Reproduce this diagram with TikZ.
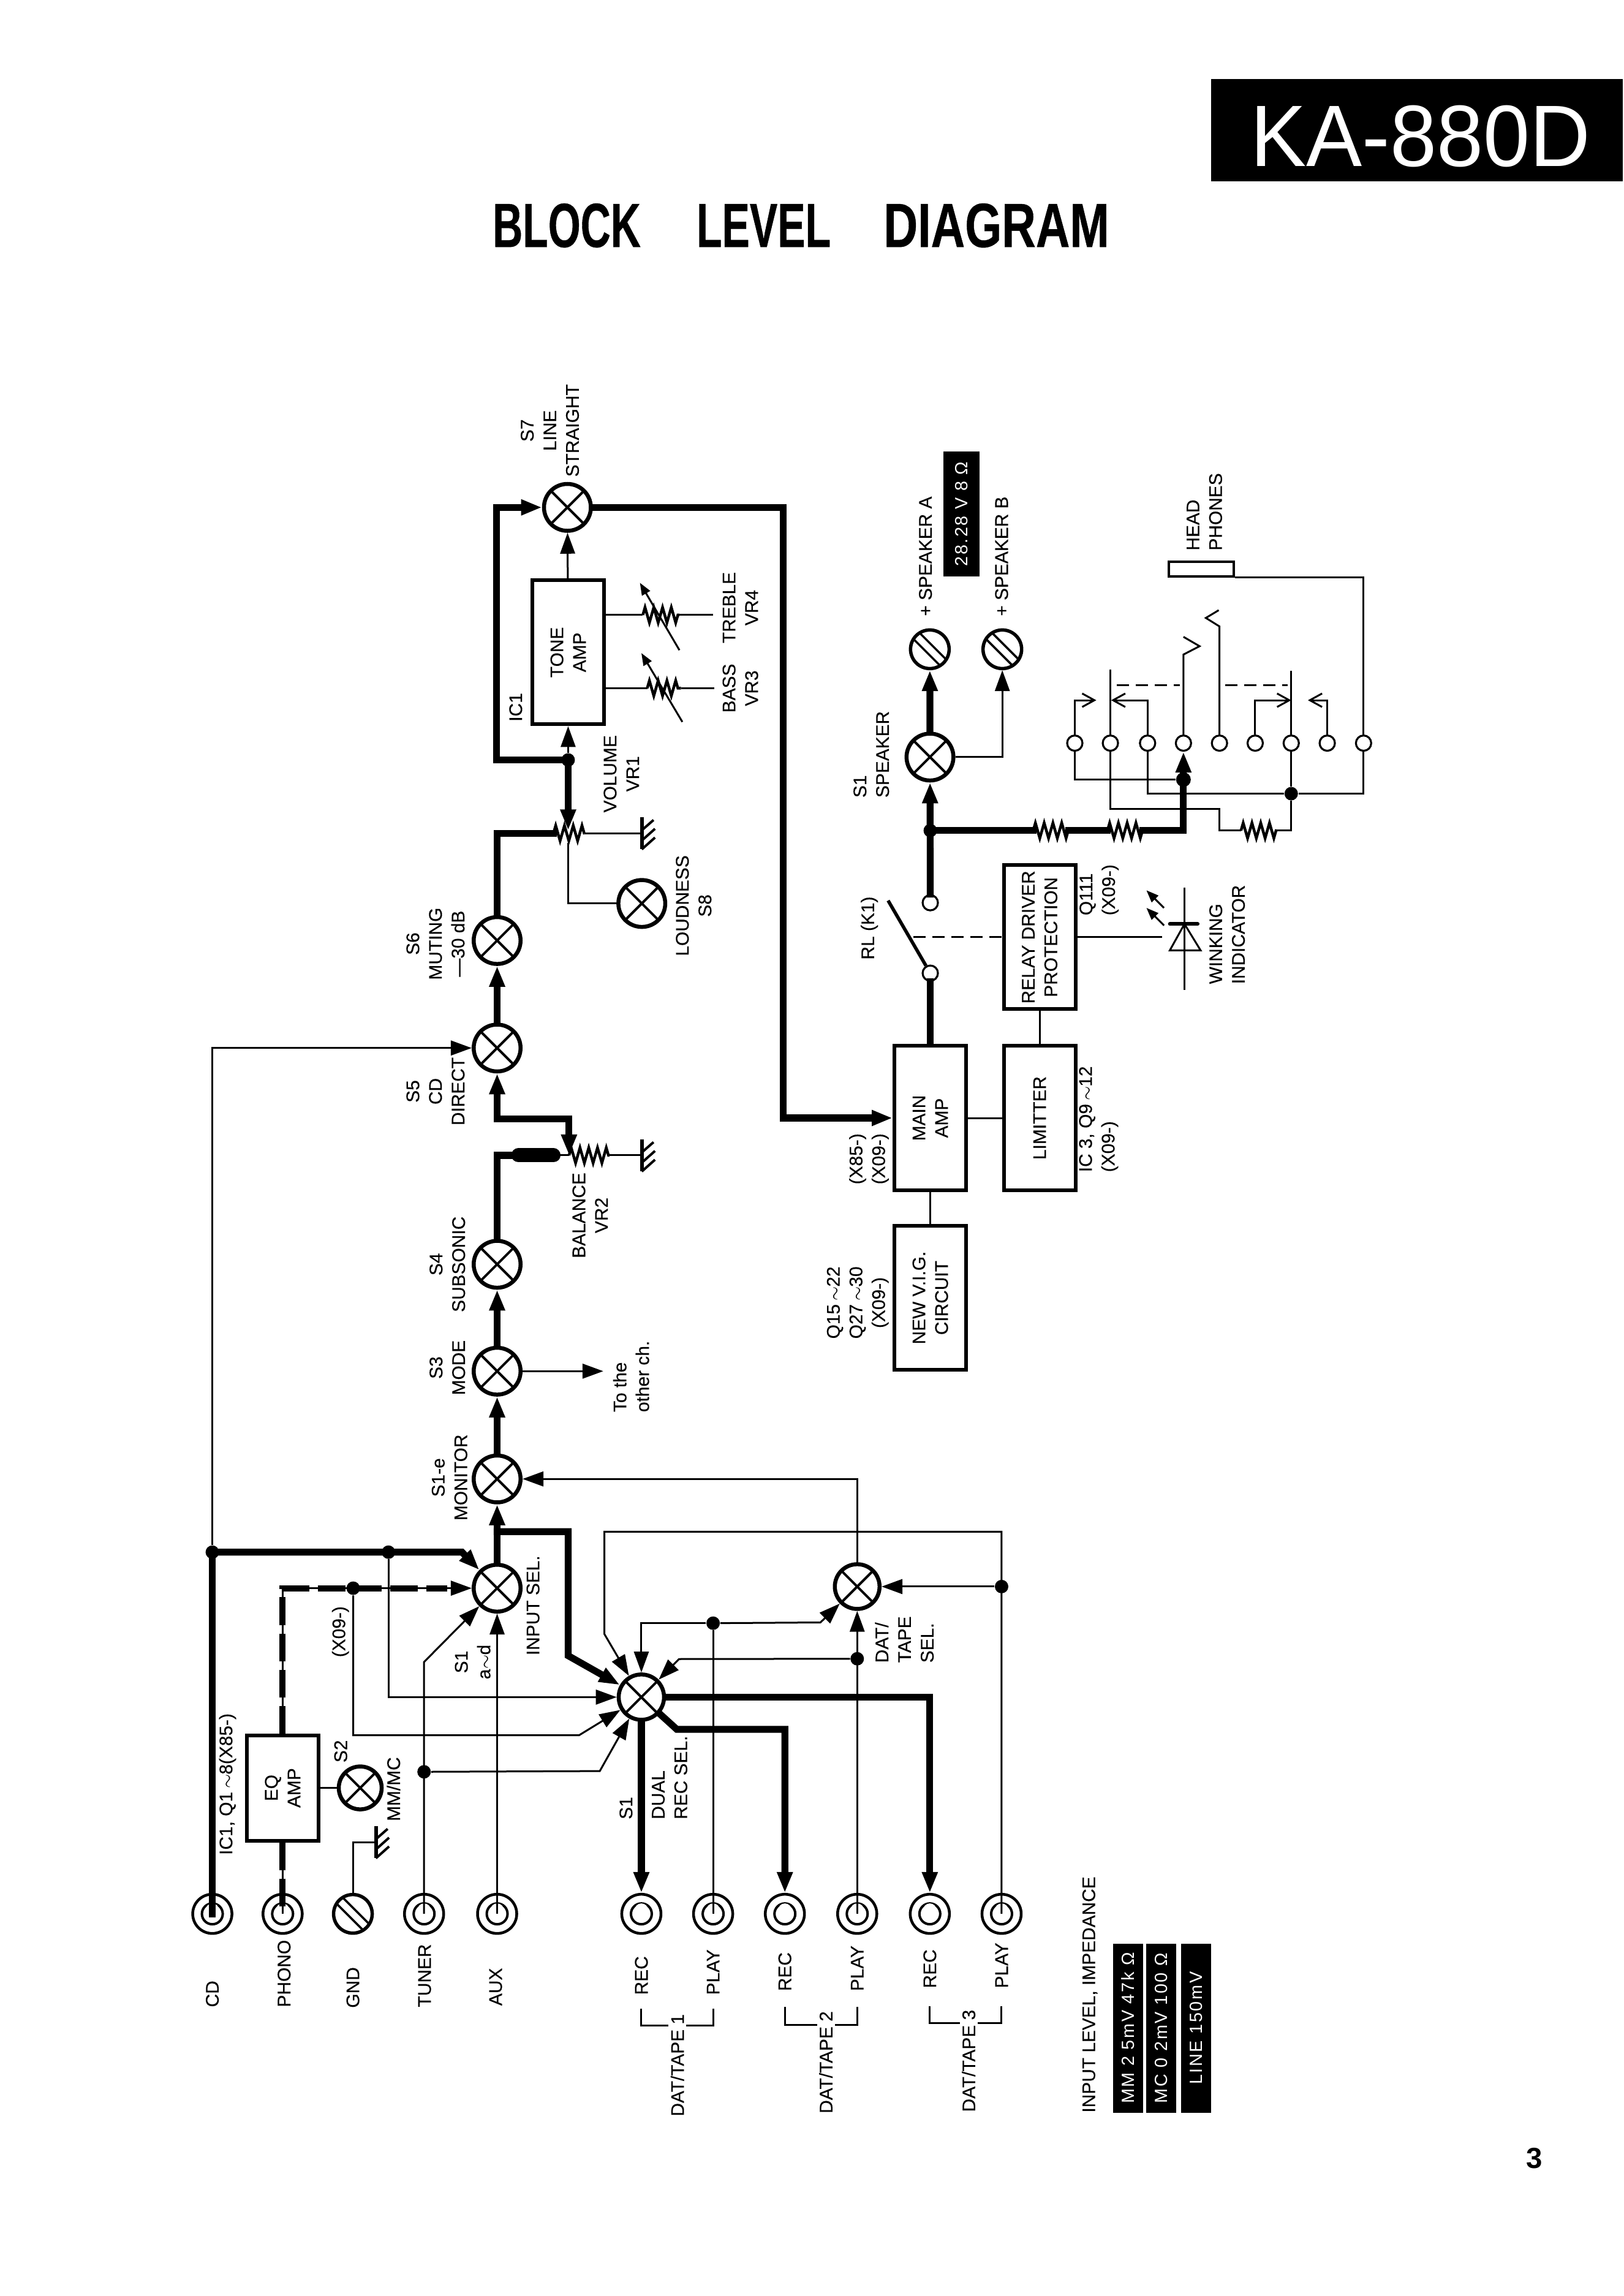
\documentclass[tikz,border=0pt]{standalone}
\usepackage{fontspec}
\setmainfont{Liberation Sans}
\newfontfamily\labfont[FakeBold=.25]{Liberation Sans}
\newfontfamily\ttlfont[FakeStretch=.667,FakeBold=.4]{Liberation Sans}
\newfontfamily\ttlwide[FakeStretch=.756,FakeBold=.4]{Liberation Sans}
\newfontfamily\headfont[FakeStretch=.96]{Liberation Sans}
\newfontfamily\tagfont[LetterSpace=9]{Liberation Sans}
\usetikzlibrary{calc}
\usetikzlibrary{arrows.meta}
\usetikzlibrary{decorations.pathmorphing}

\begin{document}
\begin{tikzpicture}[
        x=.0239cm,y=-.0239cm,
        every node/.append style={inner sep=0pt},
        lead/.style={line width=.3mm},
        sig/.style={line width=1.12mm,line cap=rect},
        ddash/.style={line width=1mm,dash pattern=on 4.5mm off 1.4mm},
        arw/.style={-{Triangle[length=3.4mm,width=2.4mm]}},
        arws/.style={-{Triangle[length=2mm,width=1.5mm]}},
        opn/.style={-{Straight Barb[length=2mm,width=2.2mm]}},
        rs/.style={line width=.45mm,decorate,decoration={zigzag,segment length=1.43mm,amplitude=1.25mm}},
        dsh/.style={line width=.3mm,dash pattern=on 2mm off 1.1mm},
        lab/.style={rotate=90,font=\labfont\fontsize{8.5}{10.5}\selectfont,align=center},
        labl/.style={lab,anchor=west,align=left},
        box/.style={lab,draw,line width=.6mm,minimum width=2.35cm,minimum height=1.17cm},
        tagbox/.style={rotate=90,fill=black,text=white,font=\tagfont\fontsize{8.2}{10}\selectfont,minimum width=2.76cm,minimum height=.49cm},
        jnc/.style={circle,fill=black,minimum size=.22cm},
        term/.style={circle,draw,fill=white,line width=.32mm,minimum size=.25cm},
        xsw/.style={circle,draw,fill=white,line width=.65mm,minimum size=.765cm,
            path picture={
                \draw[line width=.4mm] (path picture bounding box.north west) -- (path picture bounding box.south east);
                \draw[line width=.4mm] (path picture bounding box.north east) -- (path picture bounding box.south west);
            }},
        jack/.style={circle,draw,fill=white,line width=.45mm,minimum size=.64cm,
            path picture={
                \draw[line width=.4mm] (path picture bounding box.center) circle (.17cm);
                \fill ([yshift=.06cm]path picture bounding box.center) circle (.11cm);
            }},
        screw/.style={circle,draw,fill=white,line width=.55mm,minimum size=.63cm,
            path picture={
                \draw[line width=.35mm] ([shift={(-.36cm,.46cm)}]path picture bounding box.center) -- ([shift={(.46cm,-.36cm)}]path picture bounding box.center);
                \draw[line width=.35mm] ([shift={(-.46cm,.36cm)}]path picture bounding box.center) -- ([shift={(.36cm,-.46cm)}]path picture bounding box.center);
            }},
        gnd/.pic={
            \draw[line width=.6mm] (0,-11) -- (0,11);
            \draw[line width=.4mm] (0,-2) -- (8,-9);
            \draw[line width=.4mm] (0,5) -- (9,-3);
            \draw[line width=.4mm] (0,11) -- (9,3);
        },
        led/.pic={
            \draw[lead] (0,-34) -- (0,36);
            \draw[lead] (-10,9) -- (11,9) -- (0,-9) -- cycle;
            \draw[line width=.6mm,line cap=round] (-10,-9) -- (9,-9);
            \draw[lead,arws] (-14,-8) -- (-26,-20);
            \draw[lead,arws] (-14,-20) -- (-26,-32);
        }
    ]
        \path[use as bounding box,fill=white] (0,0) rectangle (1109,1568);

        \node (head) [fill=black,minimum width=6.72cm,minimum height=1.67cm] at (967.5,89) {};
        \node (headt) [text=white,font=\headfont\fontsize{40.5}{44}\selectfont] at (970,93) {KA-880D};
        \node (t1) [font=\ttlfont\bfseries\fontsize{29}{30}\selectfont] at (387,154) {BLOCK};
        \node (t2) [font=\ttlfont\bfseries\fontsize{29}{30}\selectfont] at (521.5,154) {LEVEL};
        \node (t3) [font=\ttlwide\bfseries\fontsize{29}{30}\selectfont] at (680.5,154) {DIAGRAM};
        \node (pg) [font=\bfseries\fontsize{13.5}{14}\selectfont] at (1048,1474) {3};

        \node (cd) [jack] at (145,1307) {};
        \node (phono) [jack] at (193,1307) {};
        \node (gndj) [screw] at (241,1307) {};
        \node (tuner) [jack] at (289.6,1307) {};
        \node (aux) [jack] at (339.5,1307) {};
        \node (rec1) [jack] at (438,1307) {};
        \node (play1) [jack] at (487,1307) {};
        \node (rec2) [jack] at (536,1307) {};
        \node (play2) [jack] at (585.4,1307) {};
        \node (rec3) [jack] at (635,1307) {};
        \node (play3) [jack] at (684,1307) {};

        \node (s7) [xsw] at (387.5,346.5) {};
        \node (s6) [xsw] at (339.5,642.3) {};
        \node (s5) [xsw] at (339.5,715.7) {};
        \node (s4) [xsw] at (339.5,863.4) {};
        \node (s3) [xsw] at (339.5,936.4) {};
        \node (s1e) [xsw] at (339.5,1010) {};
        \node (insel) [xsw] at (339.5,1084.6) {};
        \node (recsel) [xsw,minimum size=.74cm] at (438,1159) {};
        \node (datsel) [xsw,minimum size=.73cm] at (585.4,1083.5) {};
        \node (s2) [xsw,minimum size=.7cm] at (246,1221) {};
        \node (s8) [xsw] at (438.3,617) {};
        \node (sp1) [xsw] at (635.1,517) {};
        \node (spa) [screw] at (635,443.4) {};
        \node (spb) [screw] at (684.5,443.4) {};

        \node (eq) [box,minimum width=1.72cm] at (193,1221) {EQ\\AMP};
        \node (tone) [box] at (388,445.5) {TONE\\AMP};
        \node (main) [box] at (635.3,763.5) {MAIN\\AMP};
        \node (lim) [box] at (710,763.5) {LIMITTER};
        \node (relay) [box] at (710,640) {RELAY DRIVER\\PROTECTION};
        \node (vig) [box] at (635.3,886.3) {NEW V.I.G.\\CIRCUIT};
        \node (hp) [draw,line width=.4mm,minimum width=1.06cm,minimum height=.24cm] at (820.3,388.6) {};

        \node (c1) [term] at (635.3,616.5) {};
        \node (c2) [term] at (635.3,664.6) {};
        \node (p1) [term] at (734,507.5) {};
        \node (p2) [term] at (758.3,507.5) {};
        \node (p3) [term] at (783.7,507.5) {};
        \node (p4) [term] at (808.2,507.5) {};
        \node (p5) [term] at (832.8,507.5) {};
        \node (p6) [term] at (857.2,507.5) {};
        \node (p7) [term] at (881.8,507.5) {};
        \node (p8) [term] at (906.4,507.5) {};
        \node (p9) [term] at (931.2,507.5) {};

        \node (d1) [jnc] at (145,1060) {};
        \node (d2) [jnc] at (265.3,1060) {};
        \node (d3) [jnc] at (241.2,1084.6) {};
        \node (d4) [jnc] at (289.6,1210) {};
        \node (d5) [jnc] at (684,1083.5) {};
        \node (d6) [jnc] at (487,1108.5) {};
        \node (d7) [jnc] at (585.4,1132.8) {};
        \node (d8) [jnc] at (388,519) {};
        \node (d9) [jnc] at (635.3,567.2) {};
        \node (d10) [jnc,minimum size=.24cm] at (808.2,532.4) {};
        \node (d11) [jnc] at (881.8,542) {};

        \coordinate (b1) at (315.5,1060);
        \coordinate (b2) at (395.5,1185);
        \coordinate (b3) at (289.6,1135);
        \coordinate (b4) at (409.6,1209.5);
        \coordinate (b5) at (388,1046);
        \coordinate (b6) at (388,1130.7);
        \coordinate (j1) at (339.5,1046);
        \coordinate (b7) at (412.8,1046);
        \coordinate (b8) at (412.8,1116);
        \coordinate (b9) at (560.3,1108);
        \coordinate (b10) at (463.7,1133);
        \coordinate (b11) at (462.2,1181);
        \coordinate (g1) at (256.7,1258);
        \coordinate (other) at (412,936.4);
        \coordinate (j2) at (339.5,764);
        \coordinate (bal0) at (354,789);
        \coordinate (bal1) at (378,789);
        \coordinate (bal2) at (388.6,789);
        \coordinate (bal3) at (416.3,789);
        \coordinate (g2) at (438.3,789);
        \coordinate (vr1a) at (378,569);
        \coordinate (vr1b) at (399,569);
        \coordinate (vr1w) at (388,567);
        \coordinate (vr1s) at (388,575.6);
        \coordinate (g3) at (438.3,569);
        \coordinate (b12) at (339,519);
        \coordinate (b13) at (339,346.5);
        \coordinate (b14) at (535,763.5);
        \coordinate (tr1) at (412.5,420);
        \coordinate (tr2) at (439,420);
        \coordinate (tr3) at (464,420);
        \coordinate (tr4) at (487,420);
        \coordinate (tr5) at (464,444);
        \coordinate (tr6) at (437,398);
        \coordinate (ba1) at (412.5,470);
        \coordinate (ba2) at (442,470);
        \coordinate (ba3) at (465,470);
        \coordinate (ba4) at (488,470);
        \coordinate (ba5) at (466,493);
        \coordinate (ba6) at (438,446);
        \coordinate (r1a) at (705.6,567.2);
        \coordinate (r1b) at (729.7,567.2);
        \coordinate (r2a) at (756.3,567.2);
        \coordinate (r2b) at (780.4,567.2);
        \coordinate (r3a) at (847.5,567.2);
        \coordinate (r3b) at (871.6,567.2);
        \coordinate (b15) at (832.8,552.3);
        \coordinate (sw1) at (758.3,457.3);
        \coordinate (sw2) at (881.8,458);
        \coordinate (da1) at (762.6,468);
        \coordinate (da2) at (805.7,468);
        \coordinate (da3) at (836.6,468);
        \coordinate (da4) at (879.2,468);
        \coordinate (ta) at (748.7,478.2);
        \coordinate (tb) at (758.8,478.2);
        \coordinate (tc) at (881.8,478.2);
        \coordinate (td) at (893.2,478.2);
        \coordinate (k1) at (808.2,447);
        \coordinate (k2) at (819.2,441.3);
        \coordinate (k3) at (808.2,434.9);
        \coordinate (k4) at (832.8,427.8);
        \coordinate (k5) at (823.5,422);
        \coordinate (k6) at (832.3,416.7);
        \coordinate (bl1) at (606.5,615);
        \coordinate (bl2) at (623.6,640);
        \coordinate (l1) at (793.8,640);
        \coordinate (l2) at (808.9,640);
        \coordinate (br1a) at (438,1371.6);
        \coordinate (br1b) at (487,1371.6);
        \coordinate (br1m) at (462.5,1383.3);
        \coordinate (br2a) at (536,1370.6);
        \coordinate (br2b) at (585.4,1370.6);
        \coordinate (br2m) at (561,1383);
        \coordinate (br3a) at (635,1370);
        \coordinate (br3b) at (684,1370);
        \coordinate (br3m) at (660,1381.6);

        \draw [sig] (cd.center) -- (d1);
        \draw [lead,arw] (d1) |- (s5);
        \draw [sig,arw] (d1) -- (b1) -- (insel);
        \draw [lead,arw] (d2) |- (recsel);
        \draw [lead] (eq) -- (phono.center);
        \draw [ddash] (eq) -- (phono.center);
        \draw [lead,arw] (eq) |- (insel);
        \draw [ddash] (eq.east) |- ([xshift=-.4cm]insel.west);
        \draw [lead,arw] (d3) |- (b2) -- (recsel);
        \draw [lead] (eq) -- (s2);
        \draw [lead] (gndj) |- (g1);
        \pic at (g1) {gnd};
        \draw [lead,arw] (tuner.center) -- (b3) -- (insel);
        \draw [lead,arw] (d4) -- (b4) -- (recsel);
        \draw [lead,arw] (aux.center) -- (insel);

        \draw [sig,arw] (insel) -- (s1e);
        \draw [sig,arw] (j1) -- (b5) -- (b6) -- (recsel);
        \draw [lead,arw] (datsel) |- (s1e);
        \draw [lead,arw] (play3.center) |- (b7) -- (b8) -- (recsel);
        \draw [lead,arw] (d5) -- (datsel);
        \draw [lead] (play1.center) -- (d6);
        \draw [lead,arw] (d6) -| (recsel);
        \draw [lead,arw] (d6) -- (b9) -- (datsel);
        \draw [lead,arw] (play2.center) -- (datsel);
        \draw [lead,arw] (d7) -- (b10) -- (recsel);
        \draw [sig,arw] (recsel) -- (rec1);
        \draw [sig,arw] (recsel) -| (rec3);
        \draw [sig,arw] (recsel) -- (b11) -| (rec2);
        \draw [lead] (rec1) -- (rec1.center);
        \draw [lead] (rec2) -- (rec2.center);
        \draw [lead] (rec3) -- (rec3.center);

        \draw [sig,arw] (s1e) -- (s3);
        \draw [sig,arw] (s3) -- (s4);
        \draw [lead,arw] (s3) -- (other);
        \draw [sig] (s4) |- (bal1);
        \draw [line width=2.3mm,line cap=round] (bal0) -- (bal1);
        \draw [lead] (bal1) -- (bal2);
        \draw [rs] (bal2) -- (bal3);
        \draw [lead] (bal3) -- (g2);
        \pic at (g2) {gnd};
        \draw [sig,arw] (j2) -- (s5);
        \draw [sig,arw] (j2) -| (bal2);
        \draw [sig,arw] (s5) -- (s6);
        \draw [sig] (s6) |- (vr1a);
        \draw [rs] (vr1a) -- (vr1b);
        \draw [lead] (vr1b) -- (g3);
        \pic at (g3) {gnd};
        \draw [lead] (vr1s) |- (s8);
        \draw [sig,arw] (d8) -- (vr1w);
        \draw [sig,arw] (d8) -- (b12) -- (b13) -- (s7);
        \draw [lead,arw] (d8) -- (tone);
        \draw [lead,arw] (tone) -- (s7);
        \draw [sig,arw] (s7) -| (b14) -- (main);

        \draw [lead] (tr1) -- (tr2);
        \draw [rs] (tr2) -- (tr3);
        \draw [lead] (tr3) -- (tr4);
        \draw [lead,arws] (tr5) -- (tr6);
        \draw [lead] (ba1) -- (ba2);
        \draw [rs] (ba2) -- (ba3);
        \draw [lead] (ba3) -- (ba4);
        \draw [lead,arws] (ba5) -- (ba6);

        \draw [sig,arw] (sp1) -- (spa);
        \draw [lead,arw] (sp1) -| (spb);
        \draw [sig,arw] (c1) -- (sp1);
        \draw [sig] (d9) -- (r1a);
        \draw [rs] (r1a) -- (r1b);
        \draw [sig] (r1b) -- (r2a);
        \draw [rs] (r2a) -- (r2b);
        \draw [sig,arw] (r2b) -| (p4);
        \draw [lead] (p1) |- (d10);
        \draw [lead] (p2) |- (b15) |- (r3a);
        \draw [rs] (r3a) -- (r3b);
        \draw [lead] (r3b) -| (d11);
        \draw [lead] (p3) |- (d11);
        \draw [lead] (d11) -| (p9);
        \draw [lead] (p7) -- (d11);
        \draw [lead] (p2) -- (sw1);
        \draw [lead] (p7) -- (sw2);
        \draw [dsh] (da1) -- (da2);
        \draw [dsh] (da3) -- (da4);
        \draw [lead,opn] (p1) |- (ta);
        \draw [lead,opn] (p3) |- (tb);
        \draw [lead,opn] (p6) |- (tc);
        \draw [lead,opn] (p8) |- (td);
        \draw [lead] (p4) -- (k1) -- (k2) -- (k3);
        \draw [lead] (p5) -- (k4) -- (k5) -- (k6);
        \draw [lead] (p9) |- (hp.south east);

        \draw [sig] (main) -- (c2);
        \draw [line width=.55mm] (c2) -- (bl1);
        \draw [dsh] (bl2) -- (relay);
        \draw [lead] (main) -- (lim);
        \draw [lead] (main) -- (vig);
        \draw [lead] (relay) -- (lim);
        \draw [lead] (relay) -- (l1);
        \pic at (l2) {led};

        \draw [lead] (br1a) |- (br1m) -| (br1b);
        \draw [lead] (br2a) |- (br2m) -| (br2b);
        \draw [lead] (br3a) |- (br3m) -| (br3b);

        \node (lcd) [labl] at (145,1371) {CD};
        \node (lphono) [labl] at (194,1371) {PHONO};
        \node (lgnd) [labl] at (241,1371.5) {GND};
        \node (ltuner) [labl] at (290,1371) {TUNER};
        \node (laux) [labl] at (338.5,1370) {AUX};
        \node (lrec1) [labl] at (438,1362.6) {REC};
        \node (lplay1) [labl] at (487,1362.6) {PLAY};
        \node (lrec2) [labl] at (536,1360) {REC};
        \node (lplay2) [labl] at (585.4,1360) {PLAY};
        \node (lrec3) [labl] at (635,1358) {REC};
        \node (lplay3) [labl] at (684,1358) {PLAY};
        \node (ldat1) [labl,fill=white,inner sep=1pt] at (462.6,1447) {DAT/TAPE 1};
        \node (ldat2) [labl,fill=white,inner sep=1pt] at (564,1445) {DAT/TAPE 2};
        \node (ldat3) [labl,fill=white,inner sep=1pt] at (661.5,1444) {DAT/TAPE 3};
        \node (linput) [labl] at (744.3,1443) {INPUT LEVEL, IMPEDANCE};

        \node (tag1) [tagbox] at (770.2,1385) {MM 2 5mV 47k Ω};
        \node (tag2) [tagbox] at (793,1385) {MC 0 2mV 100 Ω};
        \node (tag3) [tagbox] at (817,1385) {LINE 150mV};
        \node (tag4) [tagbox,minimum width=2.04cm,minimum height=.59cm] at (656.5,351) {28.28 V 8 Ω};

        \node (lic1) [labl] at (155.4,1267) {IC1, Q1\,$\sim$8(X85-)};
        \node (lx1) [labl] at (232.5,1132) {(X09-)};
        \node (ls2) [lab] at (232.7,1196) {S2};
        \node (lmm) [labl] at (268.7,1244) {MM/MC};
        \node (ls1a) [lab] at (322.8,1135) {S1\\a$\sim$d};
        \node (lin) [labl] at (364,1130.7) {INPUT SEL.};
        \node (ls1b) [labl] at (427.5,1242.7) {S1};
        \node (ldual) [labl] at (457.3,1242.7) {DUAL\\REC SEL.};
        \node (ldat) [labl] at (617.6,1135.8) {DAT/\\TAPE\\SEL.};
        \node (lmon) [lab] at (307,1009) {S1-e\\MONITOR};
        \node (lmode) [lab] at (305.5,934) {S3\\MODE};
        \node (lsub) [lab] at (305.5,863.4) {S4\\SUBSONIC};
        \node (lcdd) [lab] at (297.4,745.3) {S5\\CD\\DIRECT};
        \node (lmut) [lab] at (297.4,644.5) {S6\\MUTING\\—30 dB};
        \node (lbal) [lab] at (403,830) {BALANCE\\VR2};
        \node (loth) [labl] at (431,964.6) {To the\\other ch.};
        \node (lloud) [lab] at (473.7,618.5) {LOUDNESS\\S8};
        \node (lvol) [lab] at (424.3,528.5) {VOLUME\\VR1};
        \node (lic) [lab] at (352.2,483) {IC1};
        \node (lbass) [lab] at (505.6,470) {BASS\\VR3};
        \node (ltreb) [lab] at (505.6,415) {TREBLE\\VR4};
        \node (ls7) [lab] at (375.5,294) {S7\\LINE\\STRAIGHT};
        \node (lsp) [labl] at (595,545) {S1\\SPEAKER};
        \node (lspa) [labl] at (632,421) {+ SPEAKER A};
        \node (lspb) [labl] at (684,421) {+ SPEAKER B};
        \node (lhp) [labl] at (822.5,376.2) {HEAD\\PHONES};
        \node (lrl) [lab] at (593.7,633.8) {RL (K1)};
        \node (lq111) [labl] at (750.6,625.4) {Q111\\(X09-)};
        \node (lwink) [labl] at (838,672.3) {WINKING\\INDICATOR};
        \node (lx2) [labl] at (593.4,809.1) {(X85-)\\(X09-)};
        \node (lq9) [labl] at (750.3,800.7) {IC 3, Q9\,$\sim$12\\(X09-)};
        \node (lq15) [lab] at (585.8,889.6) {Q15\,$\sim$22\\Q27\,$\sim$30\\(X09-)};
    \end{tikzpicture}
\end{document}
